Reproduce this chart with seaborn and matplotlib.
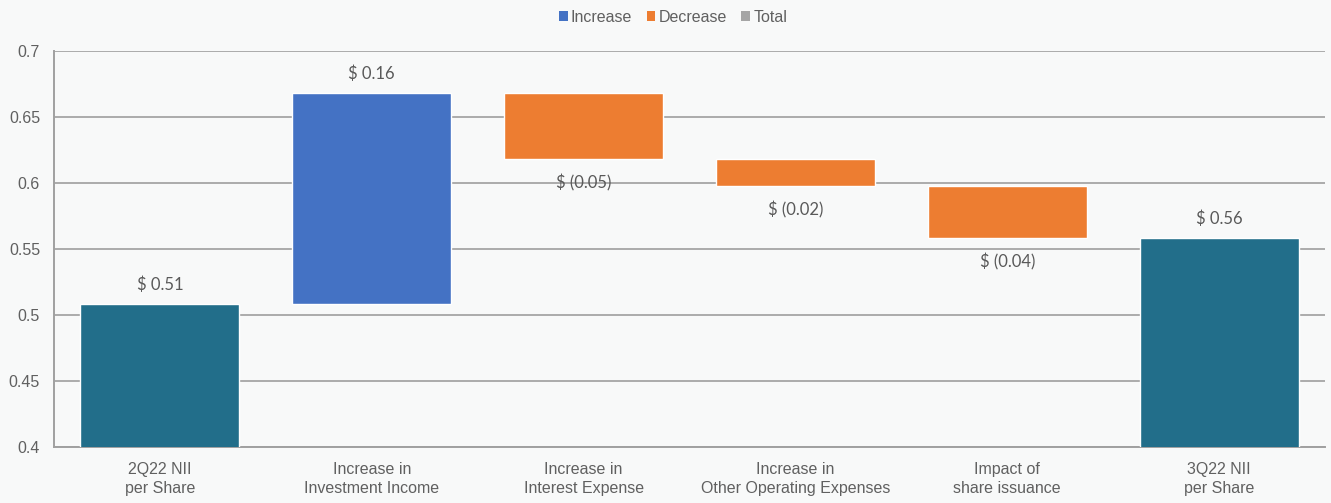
import matplotlib
matplotlib.use("Agg")
import matplotlib.pyplot as plt
from matplotlib.patches import Patch
import seaborn as sns
import pandas as pd

# ---- data ----
categories = ["2Q22 NII\nper Share", "Increase in\nInvestment Income", "Increase in\nInterest Expense",
              "Increase in\nOther Operating Expenses", "Impact of\nshare issuance", "3Q22 NII\nper Share"]
values = [0.508, 0.16, -0.05, -0.02, -0.04, 0.558]
kinds = ["Total", "Increase", "Decrease", "Decrease", "Decrease", "Total"]
bar_labels = ["$ 0.51", "$ 0.16", "$ (0.05)", "$ (0.02)", "$ (0.04)", "$ 0.56"]
yticks = [0.4, 0.45, 0.5, 0.55, 0.6, 0.65, 0.7]
ytick_labels = ["0.4", "0.45", "0.5", "0.55", "0.6", "0.65", "0.7"]
legend_names = ["Increase", "Decrease", "Total"]

bar_colors = {"Increase": "#4472C4", "Decrease": "#ED7D31", "Total": "#226E8A"}
legend_colors = {"Increase": "#4472C4", "Decrease": "#ED7D31", "Total": "#A5A5A5"}

# waterfall geometry from values
bottoms, heights = [], []
running = 0.0
for v, k in zip(values, kinds):
    if k == "Total":
        bottoms.append(0.0)
        heights.append(v)
        running = v
    elif v >= 0:
        bottoms.append(running)
        heights.append(v)
        running += v
    else:
        running += v
        bottoms.append(running)
        heights.append(-v)

df = pd.DataFrame({"cat": categories, "height": heights, "kind": kinds})

sns.set_theme(style="white")
plt.rcParams["font.family"] = ["Liberation Sans", "DejaVu Sans"]
bg = "#F8F9F9"
fig = plt.figure(figsize=(13.31, 5.03), dpi=100, facecolor=bg)
ax = fig.add_axes([54 / 1331, 1 - 447 / 503, (1325 - 54) / 1331, (447 - 51) / 503])
ax.set_facecolor(bg)

sns.barplot(data=df, x="cat", y="height", hue="kind", palette=bar_colors,
            dodge=False, width=0.75, legend=False, ax=ax, zorder=3, saturation=1)

# shift bars to waterfall positions
patches = sorted([p for p in ax.patches if p.get_height() > 0], key=lambda p: p.get_x())
for p, b, h in zip(patches, bottoms, heights):
    p.set_y(b)
    p.set_height(h)

ax.set_ylim(0.4, 0.7)
ax.set_xlim(-0.5, len(categories) - 0.5)
ax.set_yticks(yticks)
ax.set_yticklabels(ytick_labels)
ax.yaxis.grid(True, color="#ABABAB", linewidth=1.4, zorder=0)
ax.set_axisbelow(True)
for s in ["top", "right"]:
    ax.spines[s].set_visible(False)
for s in ["left", "bottom"]:
    ax.spines[s].set_color("#A0A0A0")
    ax.spines[s].set_linewidth(1.4)
ax.tick_params(axis="y", length=0, pad=10, labelsize=11.5, labelcolor="#606060")
ax.tick_params(axis="x", length=0, pad=11, labelsize=11.5, labelcolor="#606060")
for t in ax.get_xticklabels():
    t.set_linespacing(1.35)
ax.set_xlabel("")
ax.set_ylabel("")

# value labels
for i, (b, h, v, lab) in enumerate(zip(bottoms, heights, values, bar_labels)):
    top = b + h
    if v >= 0:
        ax.annotate(lab, (i, top), xytext=(0, 8), textcoords="offset points",
                    ha="center", va="bottom", fontsize=12, color="#595959",
                    family=["Lato", "DejaVu Sans"], zorder=5)
    else:
        ax.annotate(lab, (i, b), xytext=(0, -11), textcoords="offset points",
                    ha="center", va="top", fontsize=12, color="#595959",
                    family=["Lato", "DejaVu Sans"], zorder=5)

handles = [Patch(facecolor=legend_colors[n], edgecolor="none", label=n) for n in legend_names]
fig.legend(handles=handles, loc="center", bbox_to_anchor=(673 / 1331, 1 - 17 / 503), ncol=3,
           frameon=False, fontsize=11.5, labelcolor="#606060", handlelength=0.55, handleheight=0.55,
           handletextpad=0.2, columnspacing=0.9)

fig.savefig("out.png", dpi=100, facecolor=bg)
